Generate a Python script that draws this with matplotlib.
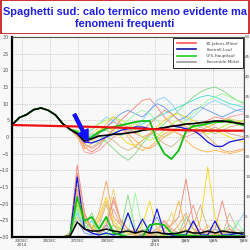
import matplotlib
matplotlib.use('Agg')
import matplotlib.pyplot as plt
from matplotlib.lines import Line2D
from matplotlib.patches import Rectangle
import numpy as np

# ---- data (x in days from start, 12h steps) ----
days = np.arange(33) * 0.5
tick_pos = [0.69, 2.62, 4.55, 6.62, 9.86, 11.93, 13.86, 15.93]
tick_labels = ['23DEC\n2014', '25DEC', '27DEC', '29DEC', '1JAN\n2015', '3JAN', '5JAN', '7JAN']
temp_ticks = [-30, -25, -20, -15, -10, -5, 0, 5, 10, 15, 20, 25, 30]
prec_ticks = [0, 5, 10, 15, 20, 25, 30, 35, 40, 45, 50]

clim_days = [0, 2, 4, 6, 8, 10, 12, 14, 16]
clim_temp = [3.6, 3.4, 3.2, 3.0, 2.7, 2.3, 2.0, 1.9, 1.9]

spinup = [3.6, 5.8, 6.7, 8.2, 8.7, 8.0, 6.6, 4.0, 2.3]

mean_tail = [1.0, -1.2, -0.5, 0.3, 0.5, 0.8, 0.9, 1.2, 1.5, 2.0, 2.3, 2.4,
             2.8, 3.2, 3.5, 3.9, 4.0, 4.3, 4.5, 4.8, 4.8, 4.5, 4.2, 3.9]
main_tail = [1.5, -1.0, 0.0, 1.5, 2.5, 3.0, 3.5, 4.0, 4.5, 4.8, 4.8, -1.0,
             -5.0, -6.6, -4.0, 1.8, 3.3, 3.5, 4.0, 4.5, 4.5, 5.0, 4.0, 3.5]
ctrl_tail = [1.0, -1.5, -1.8, -1.0, 0.0, 1.0, 2.0, 2.5, 3.0, 3.0, 2.5, 2.5,
             2.8, 3.3, 3.0, 2.5, 2.0, 0.5, -1.5, -2.8, -2.8, -1.5, -1.0, -0.6]

member_colors = ['#7fd87f', '#f4a460', '#fa8072', '#ffd700', '#87cefa', '#40e0d0',
                 '#ff9999', '#d2b48c', '#adff2f', '#6495ed', '#ffb347', '#98fb98',
                 '#e6d36a', '#e9967a']
member_tails = [
    [1.5, 0.5, 1.0, 0.5, -1.5, -3.5, -5.5, -7.0, -5.0, -2.0, 0.5, 2.0, 4.0, 6.0, 8.0, 10.0, 12.0, 13.5, 14.5, 15.0, 14.0, 12.5, 11.0, 10.0],
    [0.5, -2.0, -1.0, 1.0, 3.0, 4.5, 3.5, 1.0, -1.0, -3.0, -3.5, -2.0, 0.0, 1.5, 3.0, 4.0, 3.0, 2.0, 0.0, -2.0, -4.0, -4.5, -4.0, -3.5],
    [1.0, -3.0, -4.5, -3.0, 0.0, 2.5, 5.0, 7.0, 9.0, 11.0, 11.5, 9.0, 6.0, 4.0, 3.0, 2.5, 3.0, 4.0, 5.0, 6.0, 5.5, 5.0, 4.5, 4.0],
    [1.0, -1.0, 0.0, 2.0, 3.0, 2.0, 0.0, -2.0, -2.5, -1.0, 1.0, 3.0, 5.0, 6.5, 7.0, 6.0, 5.0, 4.0, 3.0, 2.0, 1.0, 0.0, -1.0, -1.5],
    [2.0, 0.5, 2.0, 4.0, 6.0, 5.0, 3.0, 2.0, 3.0, 5.0, 8.0, 11.0, 12.0, 10.0, 7.0, 5.0, 6.0, 8.0, 10.0, 11.0, 10.0, 9.0, 8.0, 7.5],
    [1.5, -0.5, 0.5, 1.5, 2.0, 1.0, 0.5, 1.5, 3.0, 4.0, 5.0, 6.0, 7.0, 8.0, 9.0, 10.0, 11.0, 12.0, 12.5, 12.0, 11.0, 10.0, 9.5, 9.0],
    [0.5, -4.5, -5.0, -4.0, -2.0, 0.0, 1.0, 2.0, 1.0, 0.0, 1.0, 2.0, 3.0, 2.0, 1.0, 0.0, 1.0, 2.0, 3.0, 4.0, 5.0, 6.0, 6.5, 7.0],
    [0.5, -2.5, -3.0, -1.5, 0.0, -1.0, -3.0, -4.0, -3.0, -1.0, 1.0, 0.0, -2.0, -3.0, -1.0, 1.0, 2.0, 3.0, 2.0, 1.0, 2.0, 3.0, 3.5, 4.0],
    [2.0, 1.0, 2.5, 4.0, 5.0, 6.0, 5.0, 4.0, 2.0, 0.0, -1.0, 0.0, 2.0, 4.0, 5.0, 4.0, 3.0, 2.0, 1.0, 2.0, 3.0, 4.0, 4.5, 5.0],
    [1.0, -1.5, -0.5, 1.0, 3.0, 5.0, 7.0, 8.0, 7.0, 6.0, 8.0, 10.0, 9.0, 7.0, 5.0, 6.0, 8.0, 9.0, 8.0, 7.0, 6.0, 7.0, 8.0, 8.5],
    [0.0, -3.5, -2.0, 1.0, 4.0, 6.0, 4.0, 0.0, -3.0, -4.0, -3.0, -1.0, 1.0, 2.0, 1.0, -1.0, -3.0, -4.0, -4.5, -4.0, -4.5, -5.0, -4.5, -4.0],
    [1.5, 0.0, -1.0, -2.0, -1.0, 1.0, 3.0, 5.0, 7.0, 8.0, 7.0, 5.0, 3.0, 2.0, 3.0, 5.0, 7.0, 9.0, 11.0, 12.0, 13.0, 12.0, 11.0, 10.5],
    [1.0, -1.0, 1.0, 3.0, 2.0, 1.0, 2.0, 3.0, 4.0, 3.0, 2.0, 1.0, 0.0, 1.0, 2.5, 4.0, 5.0, 4.0, 3.0, 4.0, 5.0, 5.5, 5.0, 4.5],
    [0.5, -2.0, -3.5, -2.0, 0.0, 2.0, 4.0, 3.0, 1.0, 2.0, 4.0, 6.0, 8.0, 7.0, 5.0, 3.0, 2.0, 1.0, 2.0, 3.0, 2.0, 1.0, 0.5, 0.0],
]

member_prec = [
    [0, 0, 0, 0, 0, 0, 0, 0, 0.5, 8, 3, 6, 2, 1, 3, 2, 10.5, 2, 1, 0, 0.5, 0, 0, 1, 5, 2, 0.5, 0, 0, 1, 3, 1, 0.5],
    [0, 0, 0, 0, 0, 0, 0, 0, 0.3, 12, 4, 2, 6, 14, 5, 3, 1, 0.5, 2, 1, 0.5, 0, 1, 3, 6, 2, 1, 0.5, 2, 1, 0.5, 0.3, 0.2],
    [0, 0, 0, 0, 0, 0, 0, 0, 1, 18, 6, 2, 1, 3, 9, 4, 2, 1, 0.5, 0, 1, 2, 3, 5, 14.5, 4, 1, 0.5, 2, 9, 2, 0.5, 0.3],
    [0, 0, 0, 0, 0, 0, 0, 0, 0.5, 9, 3, 1, 5, 10, 4, 2, 1, 0.5, 3, 9, 2, 1, 0.5, 1, 2, 1, 4, 17.5, 5, 1, 0.5, 1, 0.5],
    [0, 0, 0, 0, 0, 0, 0, 0, 0.2, 7, 2, 1, 0.5, 2, 1, 0.5, 0, 0, 1, 3, 1, 0.5, 0, 0, 1, 0.5, 0, 1, 2, 1, 0.5, 3, 6],
    [0, 0, 0, 0, 0, 0, 0, 0, 0.3, 6, 2, 4, 1, 0.5, 1, 0.5, 2, 1, 0.5, 0, 0, 0.5, 1, 0.5, 0, 0, 0.5, 0, 0, 0.5, 1, 0.5, 2],
    [0, 0, 0, 0, 0, 0, 0, 0, 0.5, 11, 5, 2, 1, 2, 7, 3, 1, 0.5, 0, 0.5, 1, 4, 1, 0.5, 0, 1, 2, 1, 0.5, 0, 1, 0.5, 0],
    [0, 0, 0, 0, 0, 0, 0, 0, 0.3, 5, 2, 1, 3, 8, 3, 1, 0.5, 1, 0.5, 0, 1, 0.5, 2, 1, 0.5, 3, 8, 2, 1, 0.5, 6, 2, 1],
    [0, 0, 0, 0, 0, 0, 0, 0, 0.4, 9, 4, 3, 1, 0.5, 1, 2, 6, 1, 0.5, 0, 0, 0.5, 0, 0, 0.5, 1, 0, 0, 0.5, 0, 0, 0.5, 0],
    [0, 0, 0, 0, 0, 0, 0, 0, 0.2, 4, 1, 0.5, 1, 3, 1, 0.5, 0, 0, 0.5, 2, 5, 1, 0.5, 0, 0, 0.5, 1, 0.5, 0, 0, 1, 0.5, 0],
    [0, 0, 0, 0, 0, 0, 0, 0, 0.5, 13, 5, 2, 4, 9, 3, 1, 0.5, 2, 1, 0.5, 0, 1, 3, 9, 2, 1, 0.5, 3, 1, 0.5, 2, 1, 0.5],
    [0, 0, 0, 0, 0, 0, 0, 0, 0.3, 7, 3, 2, 1, 0.5, 2, 1, 0.5, 11, 2, 1, 0.5, 0, 0, 0.5, 1, 0.5, 0, 0, 0.5, 0, 0, 4, 1],
    [0, 0, 0, 0, 0, 0, 0, 0, 0.2, 5, 2, 1, 0.5, 4, 12, 3, 1, 0.5, 0, 1, 0.5, 2, 6, 2, 1, 0.5, 0, 1, 3, 1, 0.5, 0, 0.5],
    [0, 0, 0, 0, 0, 0, 0, 0, 0.6, 16, 6, 2, 1, 3, 10, 4, 2, 1, 0.5, 1, 2, 4, 2, 1, 3, 8, 2, 1, 0.5, 1, 2, 1, 0.5],
]
main_prec = [0, 0, 0, 0, 0, 0, 0, 0, 0.3, 10, 4, 5, 2, 5, 1, 0.5, 0, 0, 0, 3, 3.3, 3, 1, 0.5, 0.3, 0.3, 0.2, 0.2, 0.3, 0.3, 0.2, 0.2, 0.2]
ctrl_prec = [0, 0, 0, 0, 0, 0, 0, 0, 0.3, 15, 2, 1, 0.5, 1, 0.5, 1, 6, 1, 4.5, 1, 7, 1, 0.5, 0.5, 0.5, 4, 0.5, 0.5, 4, 0.5, 0.5, 1, 0.5]
mean_prec = [0, 0, 0, 0, 0, 0, 0, 0, 0.2, 3.7, 2, 1.5, 1.5, 2, 1.5, 1.2, 1.5, 1, 1.5, 1, 1.2, 0.8, 0.8, 1, 1.5, 1, 1, 1.5, 1, 1.5, 1.2, 1, 1]

legend_labels = ['30-Jahres-Mittel', 'Kontroll-Lauf', 'GFS-Hauptlauf', 'Ensemble-Mittel']
title_text = 'Spaghetti sud: calo termico meno evidente ma\nfenomeni frequenti'

# ---- figure ----
fig = plt.figure(figsize=(2.5, 2.5), dpi=100, facecolor='#f8f8f8')

# header box
hax = fig.add_axes([0, 1 - 34 / 250, 1, 34 / 250])
hax.set_xlim(0, 1)
hax.set_ylim(0, 1)
hax.axis('off')
hax.add_patch(Rectangle((0.002, 0.01), 0.994, 0.98, transform=hax.transAxes,
                        facecolor='white', edgecolor='#cc2222', linewidth=1.3))
title = hax.text(0.5, 0.47, title_text, ha='center', va='center', color='#1f1fe0',
                 fontsize=8, fontweight='bold', linespacing=1.3,
                 family=['DejaVu Sans Condensed', 'Liberation Sans Narrow',
                         'Liberation Sans', 'DejaVu Sans'])
fig.canvas.draw()
w = title.get_window_extent().width
title.set_fontsize(8 * 244.0 / w)

ax = fig.add_axes([12 / 250, 13 / 250, 232 / 250, 200 / 250])
ax2 = ax.twinx()
ax.set_zorder(ax2.get_zorder() + 1)
ax.patch.set_visible(False)
ax2.patch.set_facecolor('white')

# precipitation (right axis)
for c, p in zip(member_colors, member_prec):
    ax2.plot(days, p, color=c, lw=0.6)
ax2.plot(days, ctrl_prec, color='#1515e0', lw=0.9)
ax2.plot(days, main_prec, color='#10c010', lw=1.3)
ax2.plot(days, mean_prec, color='black', lw=1.1)
ax2.set_ylim(0, 50)
ax2.set_yticks(prec_ticks)
ax2.tick_params(axis='y', labelsize=3, length=0, pad=0.8, colors='#555555')

# temperature (left axis)
for c, t in zip(member_colors, member_tails):
    ax.plot(days, spinup + t, color=c, lw=0.6)
ax.plot(days, spinup + ctrl_tail, color='#1515e0', lw=0.9)
ax.plot(days, spinup + main_tail, color='#10c010', lw=1.3)
ax.plot(days, spinup + mean_tail, color='black', lw=1.2)
ax.plot(clim_days, clim_temp, color='#ee1111', lw=1.6)

ax.annotate('', xy=(5.25, -1.3), xytext=(4.3, 6.8),
            arrowprops=dict(facecolor='#1010ff', edgecolor='#1010ff',
                            width=2.2, headwidth=8, headlength=8))

ax.set_xlim(0, 16)
ax.set_ylim(-30, 30)
ax.set_yticks(temp_ticks)
ax.set_xticks(tick_pos)
ax.set_xticklabels(tick_labels, linespacing=0.95)
ax.tick_params(axis='y', labelsize=3.5, length=0, pad=2, colors='#555555')
ax.tick_params(axis='x', labelsize=3, length=0, pad=1.2, colors='#444444')
ax.grid(True, color='#aaaaaa', linestyle=':', linewidth=0.5)

for s in ['left', 'bottom']:
    ax.spines[s].set_linewidth(1.6)
    ax.spines[s].set_color('black')
for s in ['top', 'right']:
    ax.spines[s].set_linewidth(0.8)
    ax.spines[s].set_color('#555555')
for s in ax2.spines.values():
    s.set_visible(False)

handles = [Line2D([], [], color='#ff5555', lw=1.2),
           Line2D([], [], color='#1515a0', lw=1.2),
           Line2D([], [], color='#22cc22', lw=1.2),
           Line2D([], [], color='#999999', lw=1.2)]
leg = ax.legend(handles, legend_labels, loc='upper right', fontsize=3,
                frameon=True, fancybox=False, edgecolor='black',
                framealpha=1, borderaxespad=0.2, handlelength=4.5,
                labelspacing=0.55, borderpad=0.9, handletextpad=2.5)
leg.get_frame().set_linewidth(0.6)
for t in leg.get_texts():
    t.set_color('#444444')

fig.savefig('out.png', dpi=100, facecolor=fig.get_facecolor())
